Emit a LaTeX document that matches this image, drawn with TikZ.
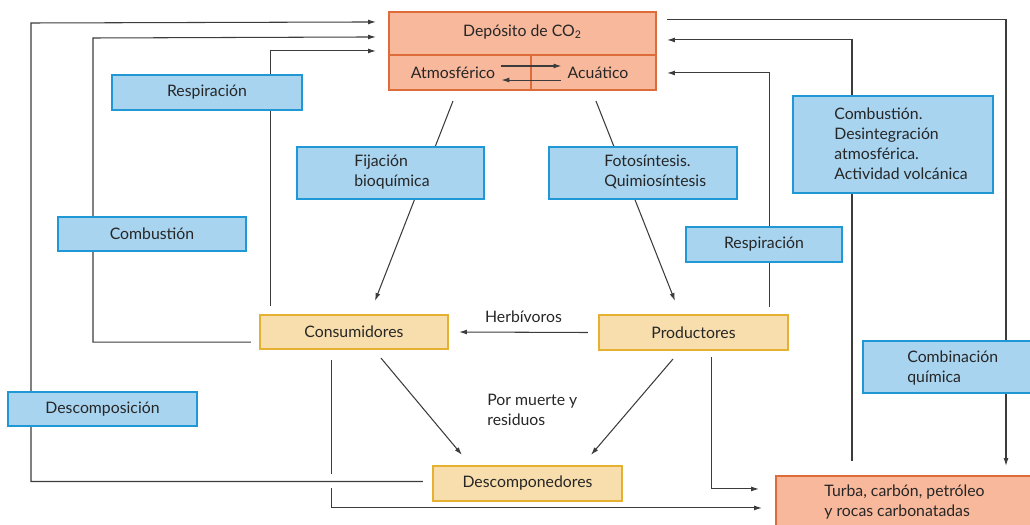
\documentclass[tikz,border=0pt]{standalone}
\usepackage{fontspec}
\setmainfont{Lato}
\usetikzlibrary{arrows.meta, backgrounds}
\definecolor{cyorange}{RGB}{248, 184, 155}
\definecolor{cyorangeline}{RGB}{222, 108, 58}
\definecolor{cyblue}{RGB}{168, 212, 240}
\definecolor{cyblueline}{RGB}{32, 152, 214}
\definecolor{cyyellow}{RGB}{248, 222, 172}
\definecolor{cyyellowline}{RGB}{230, 176, 48}
\definecolor{cygray}{RGB}{60, 60, 60}

\begin{document}
\begin{tikzpicture}[x=0.02cm, y=-0.02cm,
  every node/.style={font=\fontsize{9}{11.3}\selectfont, text=black!85},
  store/.style={draw=cyorangeline, fill=cyorange, line width=1.2pt, inner sep=0pt},
  process/.style={draw=cyblueline, fill=cyblue, line width=1.2pt, inner sep=0pt},
  organism/.style={draw=cyyellowline, fill=cyyellow, line width=1.2pt, inner sep=0pt},
  note/.style={align=left, inner sep=0pt, anchor=west},
  flow/.style={cygray, line width=0.6pt, -{Latex[length=4.5pt, width=2.8pt]}}]
  \useasboundingbox (0,0) rectangle (1030,524);

  % CO2 reservoir
  \node[store, minimum width=5.34cm, minimum height=1.56cm] (dep) at (522.5,51) {};
  \draw[cyorangeline, line width=1.2pt] ([shift={(0,44)}]dep.north west) -- ([shift={(0,44)}]dep.north east);
  \draw[cyorangeline, line width=1.2pt] ([shift={(143,44)}]dep.north west) -- ([shift={(143,0)}]dep.south west);
  \node (depname) at ([shift={(0,21)}]dep.north) {Depósito de CO\textsubscript{2}};
  \node (atm) at (453,73) {Atmosférico};
  \node (acu) at (598,73) {Acuático};
  \draw[flow] ([yshift=4pt]atm.east) -- ([yshift=4pt]acu.west);
  \draw[flow] ([yshift=-4pt]acu.west) -- ([yshift=-4pt]atm.east);

  % Organisms
  \node[organism, minimum width=3.76cm, minimum height=0.68cm] (cons) at (354,332) {Consumidores};
  \node[organism, minimum width=3.78cm, minimum height=0.7cm] (prod) at (693.5,332.5) {Productores};
  \node[organism, minimum width=3.78cm, minimum height=0.7cm] (descomp) at (527.5,483.5) {Descomponedores};

  % Fossil store
  \node[store, minimum width=5.28cm, minimum height=1.04cm] (turba) at (908,502) {};
  \node[note] (turbatxt) at ([shift={(49,0)}]turba.west) {Turba, carbón, petróleo\\y rocas carbonatadas};

  % Process labels
  \node[process, minimum width=3.8cm, minimum height=0.7cm] (respL) at (207,92.5) {Respiración};
  \node[process, minimum width=3.76cm, minimum height=0.68cm] (combL) at (152,234) {Combustión};
  \node[process, minimum width=3.78cm, minimum height=0.68cm] (descL) at (102.5,409) {Descomposición};
  \node[process, minimum width=3.12cm, minimum height=0.7cm] (respR) at (764,244.5) {Respiración};
  \node[process, minimum width=3.74cm, minimum height=1.04cm] (fij) at (390.5,173) {};
  \node[note] (fijtxt) at ([shift={(58,-1)}]fij.west) {Fijación\\bioquímica};
  \node[process, minimum width=3.76cm, minimum height=1.04cm] (foto) at (643,173) {};
  \node[note] (fototxt) at ([shift={(56,-1)}]foto.west) {Fotosíntesis.\\Quimiosíntesis};
  \node[process, minimum width=4.0cm, minimum height=1.94cm] (combR) at (893,144.5) {};
  \node[note] (combRtxt) at ([shift={(42,-1)}]combR.west) {Combustión.\\Desintegración\\atmosférica.\\Actividad volcánica};
  \node[process, minimum width=3.54cm, minimum height=1.04cm] (combq) at (951.5,367) {};
  \node[note] (combqtxt) at ([shift={(45,1)}]combq.west) {Combinación\\química};

  \node[note] (muerte) at (487,410) {Por muerte y\\residuos};

  \begin{scope}[on background layer]
    \coordinate (farL) at (31,23);
    \coordinate (midL) at (93,38);

    % Returns to the reservoir, left
    \draw[flow] ([shift={(-9,-2)}]descomp.west) -| (farL) -- ([shift={(-12,11)}]dep.north west);
    \draw[flow] ([shift={(-8,-8)}]cons.south west) -| (midL) -- ([shift={(-12,26)}]dep.north west);
    \draw[flow] ([shift={(12,-8)}]cons.north west) |- ([shift={(-12,40)}]dep.north west);

    % Returns to the reservoir, right
    \draw[flow] ([shift={(10,9)}]dep.north east) -| ([shift={(98,-9)}]turba.north);
    \draw[flow] ([shift={(-56,-14)}]turba.north) |- ([shift={(10,29)}]dep.north east);
    \draw[flow] ([shift={(-20,-7)}]prod.north east) |- ([shift={(10,62)}]dep.north east);

    % Into the fossil store
    \draw[flow] ([shift={(-78,6)}]prod.south east) |- ([shift={(-16,14)}]turba.north west);
    \draw[flow] ([shift={(73,10)}]cons.south west) -- ([shift={(73,124)}]cons.south west)
      ([shift={(73,138)}]cons.south west) |- ([shift={(-13,33)}]turba.north west);

    % Fixation
    \draw[flow] ([shift={(65,10)}]dep.south west) -- ([shift={(116,-13)}]cons.north west);
    \draw[flow] ([shift={(208,10)}]dep.south west) -- ([shift={(77,-13)}]prod.north west);
  \end{scope}

  % Food chain
  \draw[flow] ([shift={(-10,0)}]prod.west) -- node[above=2pt] (herb) {Herbívoros} ([shift={(10,0)}]cons.east);
  \draw[flow] ([shift={(122,8)}]cons.south west) -- ([shift={(30,-10)}]descomp.north west);
  \draw[flow] ([shift={(75,8)}]prod.south west) -- ([shift={(159,-10)}]descomp.north west);
\end{tikzpicture}
\end{document}
